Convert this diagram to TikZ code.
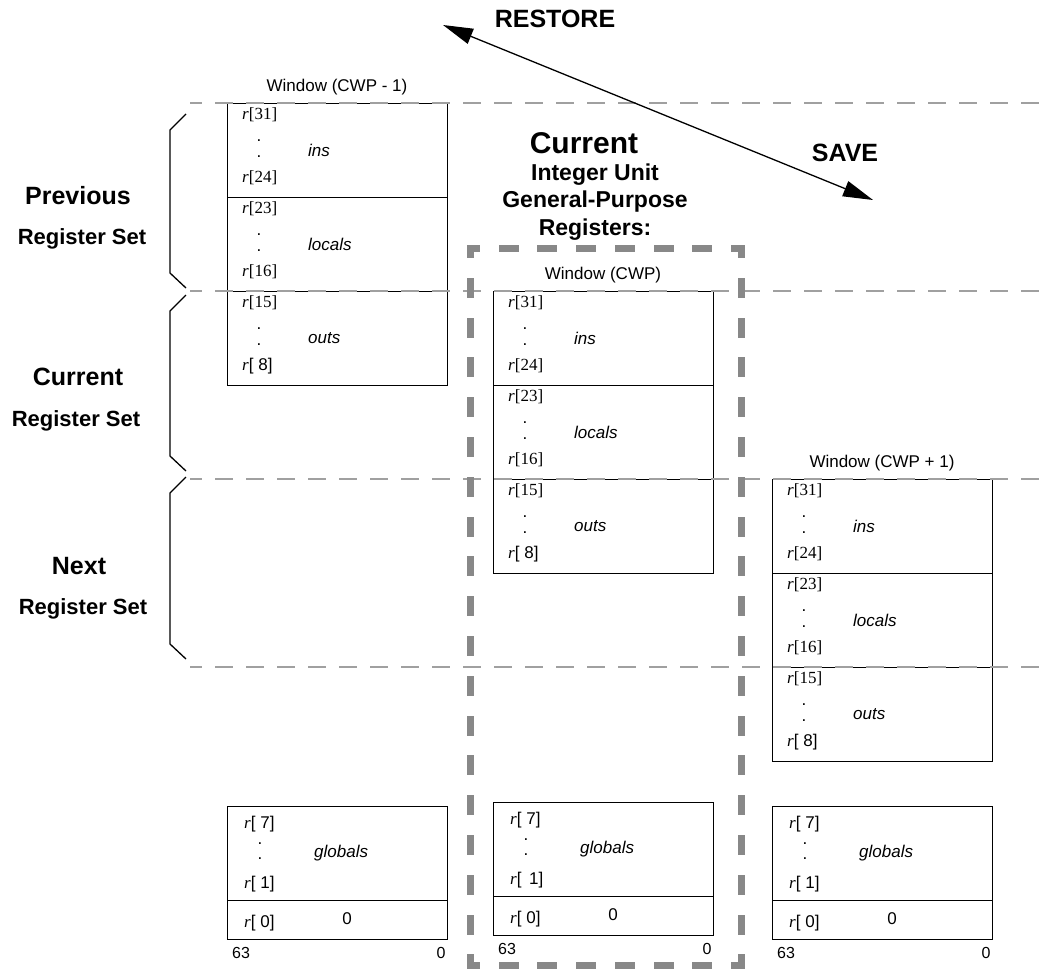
\documentclass[tikz,border=0pt]{standalone}
\usepackage{fontspec}
\setmainfont{Liberation Serif}
\setsansfont{Liberation Sans}
\usetikzlibrary{arrows.meta, positioning}
\definecolor{MyGray}{HTML}{888888}
\definecolor{LineGray}{HTML}{A0A0A0}
\tikzset{every picture/.style={/utils/exec={\sffamily}}}
\newcommand{\reg}[1]{{\rmfamily\textit{r}[#1]}}
\newcommand{\sreg}[1]{{\rmfamily\textit{r}}[#1]}

\begin{document}
\begin{tikzpicture} [x=1pt, y=-1pt,
			every node/.style={inner sep=0pt, font=\fontsize{17}{20}\selectfont},
			regbox/.style={draw, line width=1.3pt, minimum width=220pt, anchor=north west},
			reglabel/.style={anchor=west},
			regname/.style={anchor=west, font=\fontsize{17}{20}\selectfont\itshape},
			title/.style={},
			bits/.style={font=\fontsize{16}{19}\selectfont},
			head/.style={font=\fontsize{25}{30}\selectfont\bfseries},
			subhead/.style={font=\fontsize{22}{26}\selectfont\bfseries},
			brace/.style={draw, line width=1.3pt},
			setline/.style={draw=LineGray, line width=1.3pt, dash pattern=on 18pt off 13pt, dash phase=6pt},
			cwpline/.style={draw=MyGray, line width=7pt, line cap=rect, dash phase=6.5pt},
			winarrow/.style={{Triangle[length=30pt,width=16pt]}-{Triangle[length=30pt,width=16pt]}, line width=1.3pt}
		]
			\useasboundingbox (0,0) rectangle (1041,969);
			% windows
			\foreach \w/\x/\y/\wt in {wprev/227/103/{Window (CWP - 1)}, wcur/493/291/{Window (CWP)}, wnext/772/479/{Window (CWP + 1)}} {
				\node at (\x+110,\y-16) [title] (\w-title) {\wt};
				\foreach \s/\hi/\lo/\rn [count=\k from 0] in {ins/\reg{31}/\reg{24}/ins, loc/\reg{23}/\reg{16}/locals, out/\reg{15}/\sreg{ 8}/outs} {
					\pgfmathsetmacro{\yy}{\y+94*\k}
					\node at (\x,\yy) [regbox, minimum height=94pt] (\w-\s) {};
					\node at (\x+15,\yy+12) [reglabel] (\w-\s-hi) {\hi};
					\node at (\x+32,\yy+38) (\w-\s-d1) {.};
					\node at (\x+32,\yy+54) (\w-\s-d2) {.};
					\node at (\x+15,\yy+75) [reglabel] (\w-\s-lo) {\lo};
					\node at (\x+81,\yy+47) [regname] (\w-\s-name) {\rn};
				}
			}
			% globals
			\foreach \g/\x/\y/\sp in {gprev/227/806/, gcur/493/802/\,, gnext/772/806/} {
				\node at (\x,\y) [regbox, minimum height=94pt] (\g-glob) {};
				\node at (\x,\y+94) [regbox, minimum height=39pt] (\g-zero) {};
				\node at (\x+17,\y+18) [reglabel] (\g-hi) {\sreg{ 7}};
				\node at (\x+33,\y+38) (\g-d1) {.};
				\node at (\x+33,\y+53) (\g-d2) {.};
				\node at (\x+17,\y+78) [reglabel] (\g-lo) {\sreg{ \sp1}};
				\node at (\x+87,\y+47) [regname] (\g-name) {globals};
				\node at (\x+17,\y+117) [reglabel] (\g-r0) {\sreg{ 0}};
				\node at (\x+120,\y+113) (\g-val) {0};
				\node at (\x+14,\y+147) [bits] (\g-msb) {63};
				\node at (\x+214,\y+147) [bits] (\g-lsb) {0};
			}
			% register set boundaries
			\foreach \ly [count=\i] in {103,291,479,667} {
				\coordinate (setl\i) at (190,\ly);
				\coordinate (setr\i) at (1041,\ly);
				\draw[setline] (setl\i) -- (setr\i);
			}
			\foreach \ya/\yb in {114/288, 295/471, 477/659}
				\draw[brace] (186,\ya) -- (170,\ya+16) -- (170,\yb-15) -- (186,\yb);
			\node at (78,196) [head] (prevname) {Previous};
			\node at (82,239) [subhead] (prevsub) {Register Set};
			\node at (78,377) [head] (curname) {Current};
			\node at (76,421) [subhead] (cursub) {Register Set};
			\node at (79,566) [head] (nextname) {Next};
			\node at (83,609) [subhead] (nextsub) {Register Set};
			% current window frame
			\node at (584,143) [font=\fontsize{30}{36}\selectfont\bfseries] (iuhead) {Current};
			\node at (595,202) [align=center, font=\fontsize{23}{27.5}\selectfont\bfseries] (iusub) {Integer Unit\\General-Purpose\\Registers:};
			\coordinate (cwpnw) at (470,248);
			\coordinate (cwpne) at (741,248);
			\coordinate (cwpsw) at (470,965);
			\coordinate (cwpse) at (741,965);
			\draw[cwpline, dash pattern=on 13pt off 25.7pt] (cwpnw) -- (cwpne);
			\draw[cwpline, dash pattern=on 13pt off 25.7pt] (cwpsw) -- (cwpse);
			\draw[cwpline, dash pattern=on 13pt off 26.8pt] (cwpnw) -- (cwpsw);
			\draw[cwpline, dash pattern=on 13pt off 26.8pt] (cwpne) -- (cwpse);
			% save / restore
			\coordinate (restoretip) at (443,25);
			\coordinate (savetip) at (873,200);
			\draw[winarrow] (restoretip) -- (savetip);
			\node at (555,19) [head] (restore) {RESTORE};
			\node at (845,153) [head] (save) {SAVE};
		\end{tikzpicture}
\end{document}
